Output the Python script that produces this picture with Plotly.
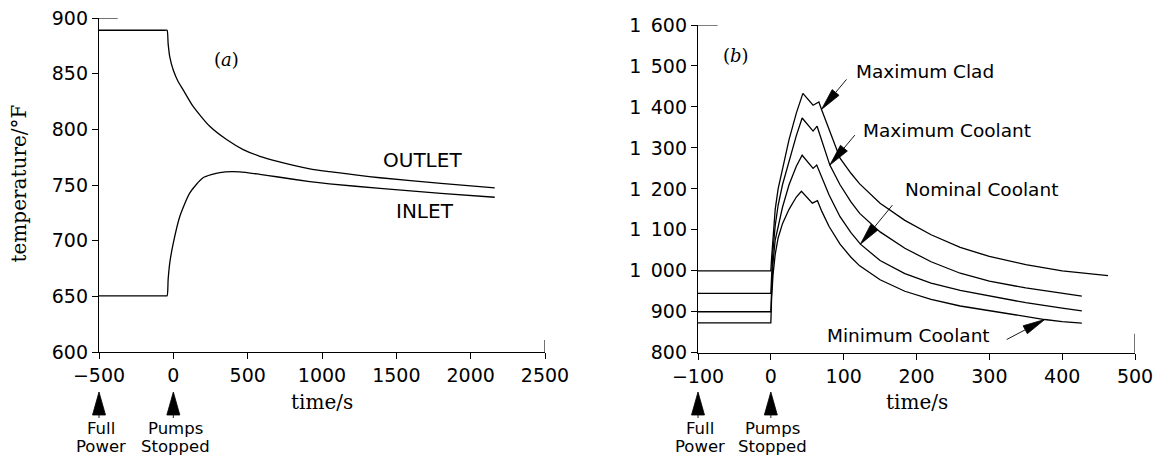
import numpy as np
import plotly.graph_objects as go

W, H = 1162, 458

# ---------------- data: panel (a) ----------------
t_outlet = [-500, -55, -42, -35, -24, 0, 32, 66, 133, 245, 358, 470, 582, 694, 918, 1050, 1390, 1800, 2162]
T_outlet = [889, 889, 889, 877, 865, 853, 843, 835.5, 820.6, 802.7, 790.8, 781.8, 775.8, 771.4, 764.5, 762, 756.5, 751.5, 747.5]
t_inlet = [-500, -55, -42, -35, -24, 0, 44, 111, 200, 313, 447, 582, 694, 918, 1050, 1390, 1800, 2162]
T_inlet = [650.5, 650.5, 650.5, 665, 680, 698, 722, 743, 756.5, 761.2, 761.8, 759.6, 757.4, 753, 751, 747, 742.5, 739]

xa_ticks = [-500, 0, 500, 1000, 1500, 2000, 2500]
xa_text = ["\u2212500", "0", "500", "1000", "1500", "2000", "2500"]
ya_ticks = [600, 650, 700, 750, 800, 850, 900]
ya_text = ["600", "650", "700", "750", "800", "850", "900"]

# ---------------- data: panel (b) ----------------
t_clad = [-100, 0, 1, 3, 6, 10, 16, 25, 35, 44, 58, 66, 70, 80, 95, 110, 122, 150, 184, 220, 260, 300, 350, 400, 463]
T_clad = [1000, 1000, 1030, 1090, 1150, 1200, 1250, 1320, 1385, 1433, 1404, 1412, 1392, 1345, 1275, 1238, 1212, 1165, 1123, 1088, 1057, 1035, 1015, 1000, 988]
t_maxcool = [-100, 0, 1, 3, 6, 10, 16, 25, 35, 43, 58, 63.5, 70, 81, 95, 110, 122, 150, 184, 220, 260, 300, 350, 400, 427]
T_maxcool = [945, 945, 985, 1050, 1110, 1160, 1210, 1270, 1330, 1373, 1341, 1353, 1318, 1258, 1210, 1168, 1140, 1095, 1055, 1022, 994, 975, 958, 945, 938]
t_nom = [-100, 0, 1, 3, 6, 10, 16, 25, 35, 43, 58, 63, 70, 80, 95, 110, 123, 150, 184, 220, 260, 300, 350, 400, 427]
T_nom = [900, 900, 950, 1020, 1075, 1110, 1155, 1210, 1255, 1282, 1250, 1258, 1228, 1185, 1132, 1093, 1065, 1025, 993, 970, 952, 938, 922, 909, 902]
t_min = [-100, 0, 1, 3, 6, 10, 16, 25, 35, 42, 57, 64, 70, 80, 95, 110, 122, 150, 184, 220, 260, 300, 350, 376, 400, 427]
T_min = [873, 873, 930, 990, 1040, 1080, 1115, 1150, 1180, 1194, 1165, 1171, 1145, 1108, 1065, 1033, 1012, 978, 950, 930, 914, 902, 888, 881, 876, 872]

xb_ticks = [-100, 0, 100, 200, 300, 400, 500]
xb_text = ["\u2212100", "0", "100", "200", "300", "400", "500"]
yb_ticks = [800, 900, 1000, 1100, 1200, 1300, 1400, 1500, 1600]
yb_text = ["800", "900", "1\u2002000", "1\u2002100", "1\u2002200", "1\u2002300", "1\u2002400", "1\u2002500", "1\u2002600"]

# times at which the labelled arrows touch the curves
arrow_t = {"clad": 69.6, "maxcool": 81, "nom": 123, "min": 376}

# ---------------- figure ----------------
SANS = "DejaVu Sans"
SERIF = "DejaVu Serif"
lw = 1.3
fig = go.Figure()

def add_line(x, y, xa, ya, shape="linear"):
    fig.add_trace(go.Scatter(x=x, y=y, mode="lines",
                             line=dict(color="black", width=lw, shape=shape, smoothing=0.6),
                             xaxis=xa, yaxis=ya, showlegend=False, hoverinfo="skip"))

add_line(t_outlet, T_outlet, "x", "y", "spline")
add_line(t_inlet, T_inlet, "x", "y", "spline")
add_line(t_clad, T_clad, "x2", "y2")
add_line(t_maxcool, T_maxcool, "x2", "y2")
add_line(t_nom, T_nom, "x2", "y2")
add_line(t_min, T_min, "x2", "y2")

axis_common = dict(showline=True, linecolor="black", linewidth=lw, ticks="outside", ticklen=6,
                   tickwidth=1.1, tickcolor="black", showgrid=False, zeroline=False, automargin=False,
                   tickfont=dict(family=SANS, size=19, color="black"), fixedrange=True)

xa_dom = [99 / W, 545 / W]
xb_dom = [698 / W, 1135 / W]
xa_rng = [-500, 2500]
xb_rng = [-100, 500]

fig.update_layout(
    width=W, height=H, margin=dict(l=0, r=0, t=0, b=0, autoexpand=False),
    paper_bgcolor="white", plot_bgcolor="white", showlegend=False,
    xaxis=dict(domain=xa_dom, range=xa_rng, tickmode="array",
               tickvals=xa_ticks, ticktext=xa_text, anchor="y", **axis_common),
    yaxis=dict(domain=[1 - 352 / H, 1 - 18 / H], range=[600, 900], tickmode="array",
               tickvals=ya_ticks, ticktext=ya_text, anchor="x", **axis_common),
    xaxis2=dict(domain=xb_dom, range=xb_rng, tickmode="array",
                tickvals=xb_ticks, ticktext=xb_text, anchor="y2", **axis_common),
    yaxis2=dict(domain=[1 - 352.7 / H, 1 - 25 / H], range=[800, 1600], tickmode="array",
                tickvals=yb_ticks, ticktext=yb_text, anchor="x2", **axis_common),
)


def to_paper(v, dom, rng):
    return dom[0] + (v - rng[0]) / (rng[1] - rng[0]) * (dom[1] - dom[0])


shapes = []
# end marks on axes
shapes.append(dict(type="line", xref="x domain", yref="y", x0=0, x1=0.042, y0=ya_ticks[-1], y1=ya_ticks[-1],
                   line=dict(color="black", width=1.1)))
shapes.append(dict(type="line", xref="x", yref="y domain", x0=xa_ticks[-1], x1=xa_ticks[-1], y0=0, y1=0.036,
                   line=dict(color="black", width=1.1)))
shapes.append(dict(type="line", xref="x2 domain", yref="y2", x0=0, x1=0.045, y0=yb_ticks[-1], y1=yb_ticks[-1],
                   line=dict(color="black", width=1.1)))
shapes.append(dict(type="line", xref="x2", yref="y2 domain", x0=xb_ticks[-1], x1=xb_ticks[-1], y0=0, y1=0.058,
                   line=dict(color="black", width=1.1)))


def arrow(xref, yref, xa, ya, dx, dy, head=22, half=4.5):
    """Filled arrow whose tip is at (xa, ya); tail offset (dx, dy) in screen px (dy down)."""
    L = np.hypot(dx, dy)
    ux, uy = dx / L, -dy / L
    px, py = -uy, ux
    bx, by = ux * head, uy * head
    path = (f"M0,0 L{bx + px * half:.2f},{by + py * half:.2f} "
            f"L{bx - px * half:.2f},{by - py * half:.2f} Z")
    shapes.append(dict(type="path", xref=xref, yref=yref, xsizemode="pixel", ysizemode="pixel",
                       xanchor=xa, yanchor=ya, path=path, fillcolor="black",
                       line=dict(color="black", width=0.8)))
    shapes.append(dict(type="line", xref=xref, yref=yref, xsizemode="pixel", ysizemode="pixel",
                       xanchor=xa, yanchor=ya, x0=bx, y0=by, x1=dx, y1=-dy,
                       line=dict(color="black", width=0.9)))


# curve-label arrows in panel (b)
for key, tt, TT, (dx, dy) in [("clad", t_clad, T_clad, (25, -30)),
                               ("maxcool", t_maxcool, T_maxcool, (25, -30)),
                               ("nom", t_nom, T_nom, (32, -39)),
                               ("min", t_min, T_min, (-38, 20))]:
    tx = arrow_t[key]
    arrow("x2", "y2", tx, float(np.interp(tx, tt, TT)), dx, dy)

# event arrows below the x axes (paper refs so they are not clipped at the axis edge)
tip_y = 1 - 392 / H
events = [(to_paper(xa_ticks[0], xa_dom, xa_rng), "Full", "Power"),
          (to_paper(0, xa_dom, xa_rng), "Pumps", "Stopped"),
          (to_paper(xb_ticks[0], xb_dom, xb_rng), "Full", "Power"),
          (to_paper(0, xb_dom, xb_rng), "Pumps", "Stopped")]
for xp, _, _ in events:
    arrow("paper", "paper", xp, tip_y, 0, 26, head=23, half=6.5)

fig.update_layout(shapes=shapes)

ann = []

def txt(text, x, y, size, family=SANS, xref="paper", yref="paper", angle=0, xanchor="center"):
    ann.append(dict(text=text, x=x, y=y, xref=xref, yref=yref, showarrow=False, textangle=angle,
                    xanchor=xanchor, yanchor="middle", font=dict(family=family, size=size, color="black")))

# axis titles
txt("temperature/°F", 18 / W, 1 - 183.5 / H, 20, SERIF, angle=-90)
txt("time/s", 322 / W, 1 - 402 / H, 20, SERIF)
txt("time/s", 916.5 / W, 1 - 402 / H, 20, SERIF)
# panel tags
txt("(<i>a</i>)", 226 / W, 1 - 59 / H, 18, SERIF)
txt("(<i>b</i>)", 736 / W, 1 - 56 / H, 18, SERIF)
# curve labels
txt("OUTLET", 422 / W, 1 - 160 / H, 20)
txt("INLET", 425 / W, 1 - 211 / H, 20)
txt("Maximum Clad", 925 / W, 1 - 71.5 / H, 18.5)
txt("Maximum Coolant", 947 / W, 1 - 130.5 / H, 18.5)
txt("Nominal Coolant", 981 / W, 1 - 189.5 / H, 18.5)
txt("Minimum Coolant", 908 / W, 1 - 335.5 / H, 18.5)
# event labels
for xp, l1, l2 in events:
    txt(l1, xp + 2 / W, 1 - 428.5 / H, 16.5)
    txt(l2, xp + 2 / W, 1 - 446 / H, 16.5)

fig.update_layout(annotations=ann)
fig.write_html("out.html", config={"displayModeBar": False},
               post_script="document.body.style.margin='0';document.body.style.overflow='hidden';")
